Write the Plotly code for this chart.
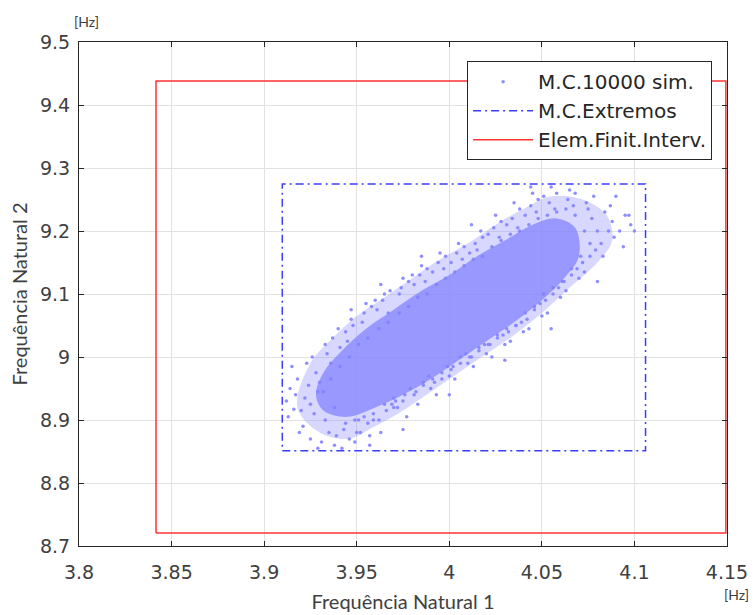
import plotly.graph_objects as go

# ---------------- data ----------------
# Monte Carlo cloud (hand-read sample of the visible points)
mc_x = [3.912,3.914,3.916,3.918,3.913,3.917,
        3.921,3.923,3.925,3.924,3.927,3.926,3.922,3.928,3.920,
        3.931,3.933,3.935,3.937,3.932,3.938,3.936,3.939,3.934,3.940,3.930,
        3.942,3.944,3.946,3.948,3.943,3.947,3.949,3.945,3.950,3.941,
        3.952,3.954,3.956,3.958,3.953,3.957,3.959,3.955,3.960,3.951,
        3.962,3.964,3.966,3.968,3.963,3.967,3.969,3.965,3.970,3.961,
        3.972,3.974,3.976,3.978,3.973,3.977,3.979,3.975,3.980,3.971,
        3.982,3.984,3.986,3.988,3.983,3.987,3.989,3.985,3.990,3.981,
        3.992,3.994,3.996,3.998,3.993,3.997,3.999,3.995,4.000,3.991,
        4.002,4.004,4.006,4.008,4.003,4.007,4.009,4.005,4.010,4.001,
        4.012,4.014,4.016,4.018,4.013,4.017,4.019,4.015,4.020,4.011,
        4.022,4.024,4.026,4.028,4.023,4.027,4.029,4.025,4.030,4.021,
        4.032,4.034,4.036,4.038,4.033,4.037,4.039,4.035,4.040,4.031,
        4.042,4.044,4.046,4.048,4.043,4.047,4.049,4.045,4.050,4.041,
        4.052,4.054,4.056,4.058,4.053,4.057,4.059,4.055,4.060,4.051,
        4.062,4.064,4.066,4.068,4.063,4.067,4.069,4.065,4.070,
        4.072,4.074,4.076,4.078,4.073,4.077,4.079,4.075,
        4.082,4.084,4.086,4.088,4.083,4.087,4.089,
        4.092,4.095,4.098,4.094,4.097,
        3.925,3.929,3.933,3.936,3.938,3.941,3.944,3.946,3.949,3.951,
        3.954,3.956,3.959,3.962,3.965,3.967,3.970,3.973,3.975,3.978,
        3.981,3.983,3.986,3.988,3.991,3.993,3.996,3.998,4.001,4.003,
        4.006,4.008,4.011,4.013,4.016,4.018,4.021,4.023,4.026,4.028,
        4.031,4.033,4.036,4.038,4.041,4.043,4.046,4.048,4.051,4.053,
        4.056,4.058,4.061,4.063,4.066,4.068,4.071,4.073,4.076,4.080,
        3.915,3.919,3.929,3.947,3.963,3.985,4.000,4.012,4.030,4.044,
        4.055,4.080,4.090,4.100,3.957,3.975]
mc_y = [8.930,8.950,8.917,8.965,8.905,8.940,
        8.890,8.990,8.870,8.955,8.910,9.000,8.935,8.975,8.915,
        8.865,9.020,8.880,9.030,8.945,8.860,8.990,8.875,9.005,9.045,8.960,
        8.855,9.040,8.870,9.050,8.885,9.060,8.865,9.025,8.880,9.015,
        8.880,9.070,8.895,9.080,9.055,8.875,8.910,9.085,9.090,8.900,
        8.900,9.090,8.915,9.105,8.880,9.070,8.925,9.100,8.935,9.075,
        8.920,9.110,8.940,9.120,9.100,8.905,8.950,9.125,9.130,8.930,
        8.945,9.130,8.960,9.140,8.925,9.120,8.970,9.145,8.950,9.115,
        8.960,9.150,8.975,9.160,8.940,9.140,8.985,9.165,8.970,9.135,
        8.985,9.165,9.000,9.175,8.965,9.155,9.005,9.180,8.990,9.150,
        9.000,9.180,9.015,9.190,8.985,9.200,9.020,9.170,9.005,9.165,
        9.020,9.205,9.030,9.215,9.000,9.190,9.035,9.225,9.020,9.195,
        9.040,9.220,9.050,9.235,9.025,9.205,9.055,9.245,9.040,9.210,
        9.060,9.240,9.075,9.250,9.045,9.230,9.085,9.260,9.065,9.225,
        9.090,9.245,9.100,9.260,9.070,9.235,9.110,9.270,9.095,9.255,
        9.120,9.250,9.130,9.260,9.105,9.240,9.140,9.265,9.125,
        9.150,9.245,9.160,9.255,9.135,9.220,9.170,9.235,
        9.180,9.230,9.200,9.215,9.160,9.240,9.190,
        9.200,9.225,9.210,9.175,9.225,
        8.925,8.945,8.900,8.965,8.920,8.985,8.895,9.000,8.900,9.020,
        8.905,9.030,8.900,9.045,8.925,9.055,8.920,9.070,8.930,9.080,
        8.940,9.095,8.955,9.100,8.965,9.115,8.965,9.125,8.980,9.135,
        8.990,9.145,9.000,9.155,9.010,9.160,9.020,9.175,9.035,9.185,
        9.045,9.195,9.050,9.200,9.070,9.210,9.080,9.220,9.100,9.225,
        9.110,9.230,9.120,9.235,9.140,9.225,9.160,9.200,9.180,9.200,
        8.985,8.880,8.855,9.075,9.115,9.160,8.940,9.210,8.995,9.270,
        9.045,9.120,9.255,9.200,8.860,8.885]

# outline of the medium-density halo of the cloud (hand-read)
halo_x = [3.918,3.930,3.945,3.960,3.975,3.990,4.005,4.020,4.035,4.050,4.065,4.080,4.088,
          4.085,4.072,4.055,4.040,4.025,4.010,3.995,3.980,3.965,3.950,3.937,3.925,3.918]
halo_y = [8.920,8.880,8.870,8.890,8.915,8.945,8.975,9.005,9.035,9.070,9.110,9.150,9.185,
          9.225,9.250,9.255,9.235,9.210,9.180,9.155,9.125,9.095,9.065,9.030,8.990,8.920]

# outline of the densest part of the cloud (hand-read)
core_x = [3.932,3.945,3.960,3.975,3.990,4.005,4.020,4.035,4.050,4.062,4.070,
          4.068,4.058,4.045,4.030,4.015,4.000,3.985,3.970,3.955,3.942,3.932,3.928,3.932]
core_y = [8.915,8.905,8.920,8.940,8.965,8.995,9.025,9.055,9.090,9.125,9.160,
          9.205,9.220,9.210,9.185,9.160,9.130,9.105,9.075,9.045,9.010,8.975,8.940,8.915]

# M.C. extremes rectangle
ext_x = [3.9098, 4.1060, 4.1060, 3.9098, 3.9098]
ext_y = [8.851, 8.851, 9.2746, 9.2746, 8.851]

# Interval finite element rectangle
fe_x = [3.8416, 4.1494, 4.1494, 3.8416, 3.8416]
fe_y = [8.7206, 8.7206, 9.438, 9.438, 8.7206]

x_ticks = [3.8, 3.85, 3.9, 3.95, 4.0, 4.05, 4.1, 4.15]
x_tick_labels = ["3.8", "3.85", "3.9", "3.95", "4", "4.05", "4.1", "4.15"]
y_ticks = [8.7, 8.8, 8.9, 9.0, 9.1, 9.2, 9.3, 9.4, 9.5]
y_tick_labels = ["8.7", "8.8", "8.9", "9", "9.1", "9.2", "9.3", "9.4", "9.5"]

# ---------------- figure ----------------
fig = go.Figure()

fig.add_trace(go.Scatter(
    x=halo_x, y=halo_y, mode="lines", fill="toself",
    fillcolor="rgba(140,140,255,0.35)", line=dict(width=0, color="rgba(140,140,255,0)"),
    line_shape="spline", showlegend=False, hoverinfo="skip"))

fig.add_trace(go.Scatter(
    x=core_x, y=core_y, mode="lines", fill="toself",
    fillcolor="rgba(135,135,255,0.78)", line=dict(width=0, color="rgba(140,140,255,0)"),
    line_shape="spline", showlegend=False, hoverinfo="skip"))

fig.add_trace(go.Scatter(
    x=mc_x, y=mc_y, mode="markers", name="M.C.10000 sim.",
    marker=dict(size=3.5, color="rgba(130,130,255,0.9)")))

fig.add_trace(go.Scatter(
    x=ext_x, y=ext_y, mode="lines", name="M.C.Extremos",
    line=dict(color="rgb(60,60,255)", width=1.5, dash="8px,4px,2px,4px")))

fig.add_trace(go.Scatter(
    x=fe_x, y=fe_y, mode="lines", name="Elem.Finit.Interv.",
    line=dict(color="rgb(255,50,50)", width=1.5)))

axis_common = dict(
    showgrid=True, gridcolor="#e2e2e2", gridwidth=1,
    showline=True, linecolor="#262626", linewidth=1, mirror="ticks",
    ticks="inside", ticklen=5, tickcolor="#262626",
    tickfont=dict(family="DejaVu Sans", size=19, color="#404040"),
    zeroline=False, automargin=False,
)

fig.update_layout(
    width=754, height=615,
    margin=dict(l=79, r=27, t=42, b=69, autoexpand=False),
    plot_bgcolor="white", paper_bgcolor="white",
    xaxis=dict(range=[3.8, 4.15], tickvals=x_ticks, ticktext=x_tick_labels,
               ticklabelstandoff=9,
               title=dict(text="Frequência Natural 1", standoff=13,
                          font=dict(family="Lato", size=20, color="#404040")),
               **axis_common),
    yaxis=dict(range=[8.7, 9.5], tickvals=y_ticks, ticktext=y_tick_labels,
               ticklabelstandoff=4,
               title=dict(text="Frequência Natural 2", standoff=6,
                          font=dict(family="Lato", size=20, color="#404040")),
               **axis_common),
    legend=dict(x=0.977, xanchor="right", y=0.962, yanchor="top",
                bgcolor="white", bordercolor="#262626", borderwidth=1,
                font=dict(family="DejaVu Sans", size=20, color="#262626"),
                tracegroupgap=0, itemwidth=60),
    showlegend=True,
    annotations=[
        dict(text="[Hz]", xref="paper", yref="paper", x=0.0, y=1.0,
             xanchor="center", yanchor="bottom", yshift=10, xshift=7, showarrow=False,
             font=dict(family="Lato", size=14, color="#404040")),
        dict(text="[Hz]", xref="paper", yref="paper", x=1.0, y=0.0,
             xanchor="center", yanchor="top", yshift=-38, xshift=9, showarrow=False,
             font=dict(family="Lato", size=14, color="#404040")),
    ],
)

fig.write_html("out.html", config={"displayModeBar": False},
               post_script="document.body.style.margin='0';")
